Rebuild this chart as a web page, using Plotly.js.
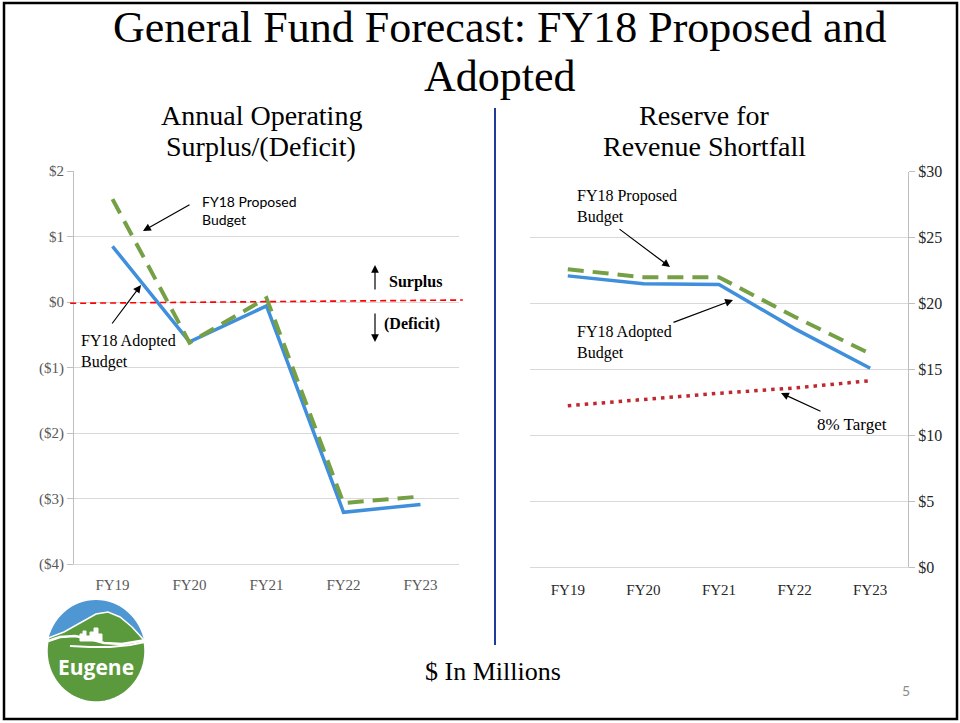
<!DOCTYPE html>
<html>
<head>
<meta charset="utf-8">
<script src="https://cdn.plot.ly/plotly-3.0.1.min.js"></script>
<style>html,body{margin:0;padding:0;background:#fff;}#chart{width:960px;height:723px;}</style>
</head>
<body>
<div id="chart"></div>
<script>
// ---- data ----
const years = ['FY19', 'FY20', 'FY21', 'FY22', 'FY23'];
const surplusAdopted = [0.85, -0.61, -0.06, -3.21, -3.09];
const surplusProposed = [1.57, -0.62, 0.06, -3.07, -2.97];
const zeroLineY = [-0.02, 0.03];
const reserveAdopted = [22.1, 21.5, 21.45, 18.1, 15.1];
const reserveProposed = [22.6, 22.0, 22.0, 19.0, 16.2];
const reserveTarget = [12.25, 12.75, 13.2, 13.6, 14.15];
const leftTickVals = [2, 1, 0, -1, -2, -3, -4];
const leftTickText = ['$2', '$1', '$0', '($1)', '($2)', '($3)', '($4)'];
const rightTickVals = [0, 5, 10, 15, 20, 25, 30];
const rightTickText = ['$0', '$5', '$10', '$15', '$20', '$25', '$30'];

const W = 960, H = 723;
const fx = p => p / W;
const fy = p => 1 - p / H;

const BLUE = '#3f8fdd', GREEN = '#76a046', TARGET = '#c0282f';
const SERIF = 'Liberation Serif, DejaVu Serif, serif';
const SANS = 'Lato, Liberation Sans, sans-serif';

const traces = [
  {x: years, y: surplusAdopted, xaxis: 'x', yaxis: 'y', mode: 'lines', line: {color: BLUE, width: 3.5}, hoverinfo: 'skip'},
  {x: years, y: surplusProposed, xaxis: 'x', yaxis: 'y', mode: 'lines', line: {color: GREEN, width: 4, dash: '16px,9px'}, hoverinfo: 'skip'},
  {x: years, y: reserveAdopted, xaxis: 'x2', yaxis: 'y2', mode: 'lines', line: {color: BLUE, width: 3.5}, hoverinfo: 'skip'},
  {x: years, y: reserveProposed, xaxis: 'x2', yaxis: 'y2', mode: 'lines', line: {color: GREEN, width: 4, dash: '16px,9px'}, hoverinfo: 'skip'},
  {x: years, y: reserveTarget, xaxis: 'x2', yaxis: 'y2', mode: 'lines', line: {color: TARGET, width: 3.5, dash: '3.5px,5px'}, hoverinfo: 'skip'}
];

// ---- logo (decoration) ----
const LOGO = (function () {
  const cx = 96, cy = 651, rx = 49, ry = 51;
  const toPath = (pts, close) => pts.map((p, i) => (i ? 'L' : 'M') + fx(p[0]).toFixed(5) + ',' + fy(p[1]).toFixed(5)).join(' ') + (close ? ' Z' : '');
  const circ = [];
  for (let i = 0; i <= 72; i++) {
    const t = i * 2 * Math.PI / 72;
    circ.push([cx + rx * Math.cos(t), cy + ry * Math.sin(t)]);
  }
  const tL = Math.PI + 0.26, tR = -0.22;
  const arc = [];
  for (let i = 0; i <= 70; i++) {
    const t = tL - i * (tL - tR) / 70;
    arc.push([cx + rx * Math.cos(t), cy + ry * Math.sin(t)]);
  }
  const ridge = [[132, 627], [120, 617], [108, 612], [96, 614], [80, 623], [64, 632], arc[0]];
  const w1 = [[48, 641], [60, 637], [75, 636], [90, 639], [104, 643], [122, 644], [146, 640]];
  const w2 = [[70, 646], [90, 647], [110, 647], [130, 645], [145, 642]];
  const sky = [[80, 641], [80, 634], [83, 634], [83, 631], [86, 631], [86, 636], [90, 636], [90, 632], [94, 632], [94, 628], [98, 628], [98, 634], [102, 634], [102, 641]];
  return {circle: toPath(circ, true), green: toPath(arc.concat(ridge), true), w1: toPath(w1), w2: toPath(w2), sky: toPath(sky, true)};
})();

const shapes = [
  {type: 'rect', xref: 'paper', yref: 'paper', x0: fx(4), x1: fx(957), y0: fy(719), y1: fy(3), line: {color: '#000', width: 2.5}},
  {type: 'line', xref: 'paper', yref: 'paper', x0: fx(495), x1: fx(495), y0: fy(645), y1: fy(108), line: {color: '#1f3c99', width: 2}},
  {type: 'line', xref: 'x domain', yref: 'y', x0: -0.01, x1: 1.01, y0: zeroLineY[0], y1: zeroLineY[1], line: {color: '#ff0000', width: 1.6, dash: '6px,4px'}},
  {type: 'path', xref: 'paper', yref: 'paper', path: LOGO.circle, fillcolor: '#4f97d3', line: {width: 0}},
  {type: 'path', xref: 'paper', yref: 'paper', path: LOGO.green, fillcolor: '#5b9a3c', line: {color: '#ffffff', width: 1.5}},
  {type: 'path', xref: 'paper', yref: 'paper', path: LOGO.w1, line: {color: '#ffffff', width: 2.5}},
  {type: 'path', xref: 'paper', yref: 'paper', path: LOGO.w2, line: {color: '#ffffff', width: 2}},
  {type: 'path', xref: 'paper', yref: 'paper', path: LOGO.sky, fillcolor: '#ffffff', line: {color: '#ffffff', width: 1}}
];

function txt(text, x, y, opts) {
  return Object.assign({text: text, xref: 'paper', yref: 'paper', x: fx(x), y: fy(y), showarrow: false,
    xanchor: 'left', yanchor: 'middle', align: 'left', font: {family: SERIF, size: 16, color: '#000'}}, opts || {});
}
function arrow(hx, hy, tx, ty) {
  return {text: '', xref: 'paper', yref: 'paper', x: fx(hx), y: fy(hy), ax: tx - hx, ay: ty - hy,
    showarrow: true, arrowhead: 2, arrowsize: 1.3, arrowwidth: 1.2, arrowcolor: '#000', standoff: 0, startstandoff: 0};
}

const annotations = [
  txt('General Fund Forecast: FY18 Proposed and', 500, 28, {xanchor: 'center', font: {family: SERIF, size: 44, color: '#000'}}),
  txt('Adopted', 500, 77, {xanchor: 'center', font: {family: SERIF, size: 44, color: '#000'}}),
  txt('Annual Operating', 261, 116, {xanchor: 'center', font: {family: SERIF, size: 28, color: '#000'}}),
  txt('Surplus/(Deficit)', 261, 147, {xanchor: 'center', font: {family: SERIF, size: 28, color: '#000'}}),
  txt('Reserve for', 704, 116, {xanchor: 'center', font: {family: SERIF, size: 28, color: '#000'}}),
  txt('Revenue Shortfall', 704, 147, {xanchor: 'center', font: {family: SERIF, size: 28, color: '#000'}}),
  txt('FY18 Proposed<br>Budget', 200, 210, {font: {family: SANS, size: 14, color: '#000'}}),
  arrow(143, 231, 191, 204),
  txt('FY18 Adopted<br>Budget', 79, 351),
  arrow(141, 285, 111, 325),
  txt('<b>Surplus</b>', 387, 282),
  arrow(375, 265, 375, 291),
  txt('<b>(Deficit)</b>', 382, 324),
  arrow(375, 342, 375, 312),
  txt('FY18 Proposed<br>Budget', 575, 206),
  arrow(670, 267, 618, 228),
  txt('FY18 Adopted<br>Budget', 575, 342),
  arrow(733, 300, 672, 323),
  txt('8% Target', 815, 424, {font: {family: SERIF, size: 17, color: '#000'}}),
  arrow(781, 393, 822, 412),
  txt('$ In Millions', 493, 671, {xanchor: 'center', font: {family: SERIF, size: 26, color: '#000'}}),
  txt('5', 906, 690, {xanchor: 'center', font: {family: SANS, size: 14, color: '#8c8c8c'}}),
  txt('<b>Eugene</b>', 96, 667, {xanchor: 'center', font: {family: 'Open Sans, sans-serif', size: 21, color: '#ffffff'}})
];

const layout = {
  width: W, height: H,
  margin: {l: 0, r: 0, t: 0, b: 0},
  paper_bgcolor: '#ffffff', plot_bgcolor: 'rgba(0,0,0,0)',
  showlegend: false,
  xaxis: {domain: [fx(74), fx(459)], anchor: 'y', type: 'category', range: [-0.5, 4.5],
    showgrid: false, showline: true, linecolor: '#d9d9d9', linewidth: 1, ticks: '', ticklabelstandoff: 7,
    tickfont: {family: SERIF, size: 15, color: '#595959'}, fixedrange: true},
  yaxis: {domain: [fy(564), fy(171)], anchor: 'x', range: [-4, 2], tickvals: leftTickVals, ticktext: leftTickText,
    showgrid: true, gridcolor: '#d9d9d9', zeroline: false, showline: true, linecolor: '#bfbfbf', linewidth: 1,
    ticks: 'outside', ticklen: 6, tickcolor: '#bfbfbf', tickfont: {family: SERIF, size: 15, color: '#595959'}, fixedrange: true},
  xaxis2: {domain: [fx(530), fx(908)], anchor: 'y2', type: 'category', range: [-0.5, 4.5],
    showgrid: false, showline: true, linecolor: '#d9d9d9', linewidth: 1, ticks: '', ticklabelstandoff: 9,
    tickfont: {family: SERIF, size: 15, color: '#262626'}, fixedrange: true},
  yaxis2: {domain: [fy(567.3), fy(171.7)], anchor: 'x2', side: 'right', range: [0, 30], tickvals: rightTickVals, ticktext: rightTickText,
    showgrid: true, gridcolor: '#d9d9d9', zeroline: false, showline: true, linecolor: '#bfbfbf', linewidth: 1,
    ticks: 'outside', ticklen: 6, tickcolor: '#bfbfbf', tickfont: {family: SERIF, size: 16, color: '#262626'}, fixedrange: true},
  shapes: shapes,
  annotations: annotations
};

Plotly.newPlot('chart', traces, layout, {displayModeBar: false, staticPlot: true});
</script>
</body>
</html>
